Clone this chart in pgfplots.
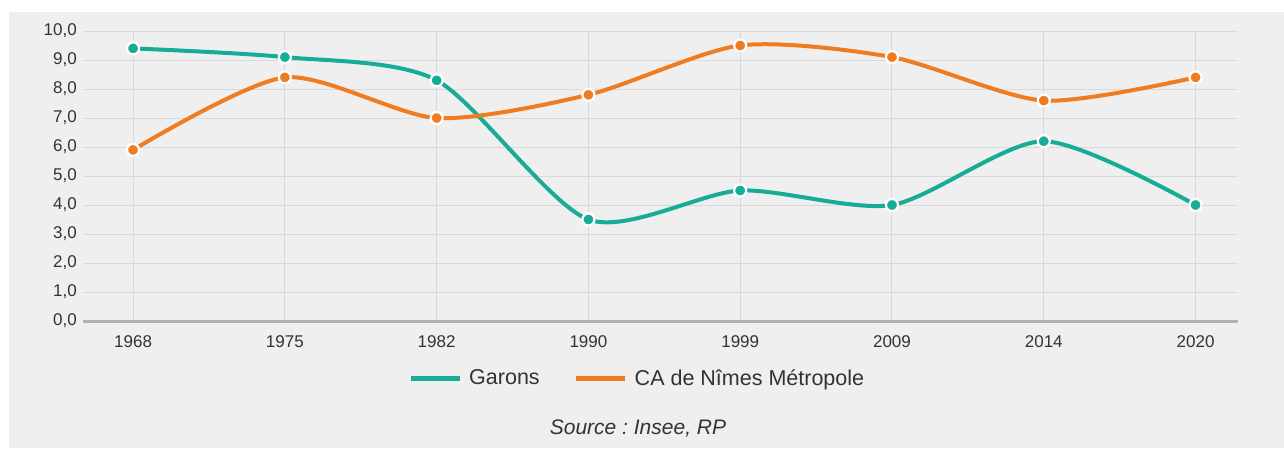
\documentclass[border=0pt]{standalone}
\usepackage{pgfplots}
\pgfplotsset{compat=1.18}
\usepackage{fontspec}
\setmainfont{Liberation Sans}
\definecolor{cteal}{RGB}{22,172,150}
\definecolor{corange}{RGB}{240,124,34}
\definecolor{bggray}{RGB}{239,239,239}
\definecolor{gridgray}{RGB}{217,217,217}
\definecolor{axisgray}{RGB}{176,176,176}
\definecolor{txt}{RGB}{51,51,51}
\pgfplotsset{
  legline/.style={legend image code/.code={\draw[##1,line width=5pt] (0pt,0pt) -- (49pt,0pt);}},
}
\begin{document}
\begin{tikzpicture}
\fill[white] (0pt,0pt) rectangle (1284pt,448pt);
\fill[bggray] (9pt,0pt) rectangle (1284pt,436pt);
\begin{axis}[
  at={(83pt,127pt)}, anchor=south west,
  scale only axis, width=1155pt, height=290pt,
  xmin=-0.33, xmax=7.28, ymin=0, ymax=10,
  xtick={0,1,2,3,4,5,6,7},
  xticklabels={1968,1975,1982,1990,1999,2009,2014,2020},
  ytick={0,1,2,3,4,5,6,7,8,9,10},
  /pgf/number format/.cd, fixed, fixed zerofill, precision=1, use comma, assume math mode=true,
  /pgfplots/.cd,
  grid=major,
  grid style={color=gridgray, line width=1pt},
  axis lines*=left,
  x axis line style={color=axisgray, line width=3pt},
  y axis line style={draw=none},
  major tick length=0pt,
  tick style={draw=none},
  ticklabel style={font=\fontsize{17}{17}\selectfont, text=txt},
  yticklabel style={inner sep=0pt, anchor=east, xshift=-6pt},
  xticklabel style={inner sep=0pt, anchor=north, yshift=-14pt},
  clip=false,
  legend columns=2,
  legend style={draw=none, fill=none, inner sep=0pt,
    at={(0.2814,-0.1966)}, anchor=west,
    nodes={inner sep=0pt},
    font=\fontsize{21.5}{21.5}\selectfont, text=txt,
    /tikz/every odd column/.append style={column sep=7pt},
    /tikz/every even column/.append style={column sep=34pt}},
]
\addplot[color=cteal, line width=4pt, smooth, tension=0.45,
  mark=*, mark size=6pt, mark options={draw=white, line width=2.2pt, fill=cteal}, forget plot]
  coordinates {(0,9.4) (1,9.1) (2,8.3) (3,3.5) (4,4.5) (5,4.0) (6,6.2) (7,4.0)};
\addplot[color=corange, line width=4pt, smooth, tension=0.45,
  mark=*, mark size=6pt, mark options={draw=white, line width=2.2pt, fill=corange}, forget plot]
  coordinates {(0,5.9) (1,8.4) (2,7.0) (3,7.8) (4,9.5) (5,9.1) (6,7.6) (7,8.4)};
\addlegendimage{legline, color=cteal}
\addlegendentry{Garons}
\addlegendimage{legline, color=corange}
\addlegendentry{CA de Nîmes Métropole}
\node[font=\fontsize{21}{21}\itshape\selectfont, text=txt] at (rel axis cs:0.4805,-0.369) {\frenchspacing Source : Insee, RP};
\end{axis}
\pgfresetboundingbox
\path[use as bounding box] (0pt,0pt) rectangle (1284pt,448pt);
\end{tikzpicture}
\end{document}
